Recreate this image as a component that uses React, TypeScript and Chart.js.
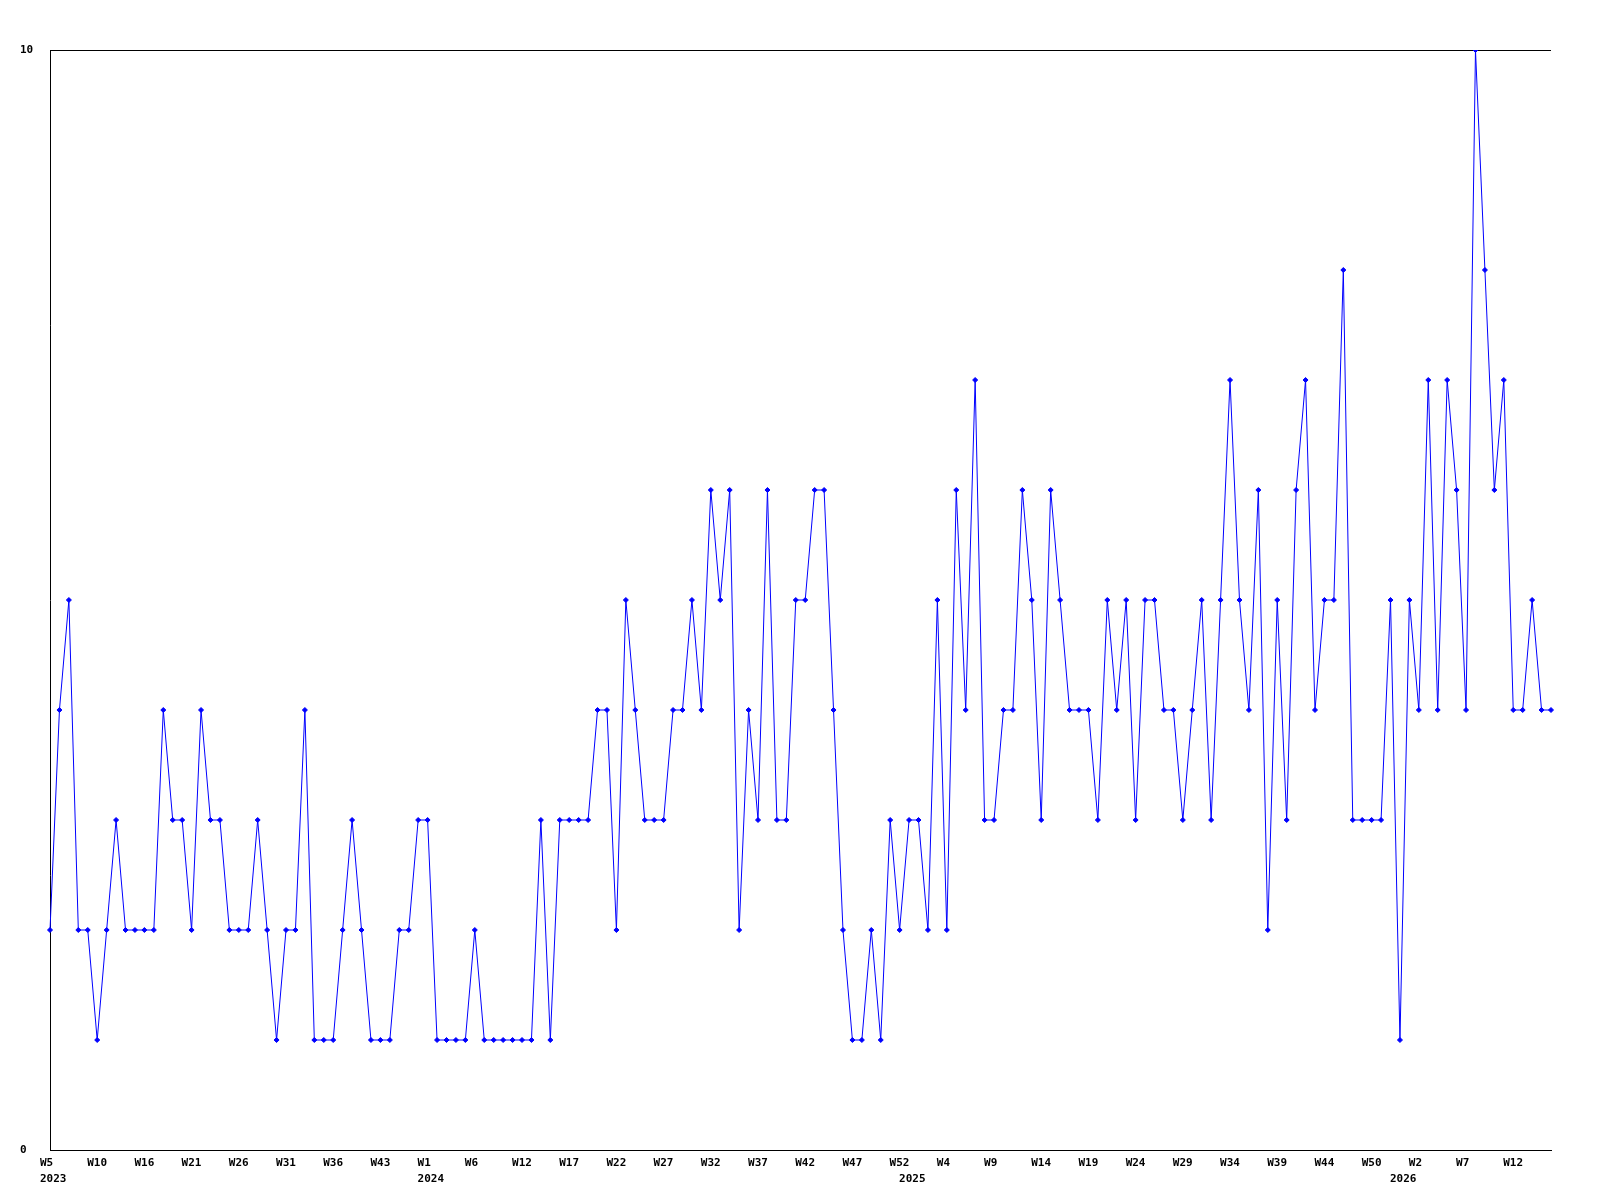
import React, { useEffect, useRef } from "react";
import { Chart, registerables } from "chart.js";

Chart.register(...registerables);

// Week number of each data point (a decrease marks the start of a new year)
const weekNumbers: number[] = [
  5, 6, 7, 8, 9, 10, 11, 12, 13, 15,
  16, 17, 18, 19, 20, 21, 22, 23, 24, 25,
  26, 27, 28, 29, 30, 31, 32, 33, 34, 35,
  36, 37, 38, 40, 42, 43, 44, 46, 48, 50,
  1, 2, 3, 4, 5, 6, 7, 8, 9, 11,
  12, 13, 14, 15, 16, 17, 18, 19, 20, 21,
  22, 23, 24, 25, 26, 27, 28, 29, 30, 31,
  32, 33, 34, 35, 36, 37, 38, 39, 40, 41,
  42, 43, 44, 45, 46, 47, 48, 49, 50, 51,
  52, 0, 1, 2, 3, 4, 5, 6, 7, 8,
  9, 10, 11, 12, 13, 14, 15, 16, 17, 18,
  19, 20, 21, 22, 23, 24, 25, 26, 27, 28,
  29, 30, 31, 32, 33, 34, 35, 36, 37, 38,
  39, 40, 41, 42, 43, 44, 45, 46, 47, 49,
  50, 51, 52, 0, 1, 2, 3, 4, 5, 6,
  7, 8, 9, 10, 11, 12, 13, 14, 15, 16,
];

const firstYear = 2023;

const values: number[] = [
  2, 4, 5, 2, 2, 1, 2, 3, 2, 2,
  2, 2, 4, 3, 3, 2, 4, 3, 3, 2,
  2, 2, 3, 2, 1, 2, 2, 4, 1, 1,
  1, 2, 3, 2, 1, 1, 1, 2, 2, 3,
  3, 1, 1, 1, 1, 2, 1, 1, 1, 1,
  1, 1, 3, 1, 3, 3, 3, 3, 4, 4,
  2, 5, 4, 3, 3, 3, 4, 4, 5, 4,
  6, 5, 6, 2, 4, 3, 6, 3, 3, 5,
  5, 6, 6, 4, 2, 1, 1, 2, 1, 3,
  2, 3, 3, 2, 5, 2, 6, 4, 7, 3,
  3, 4, 4, 6, 5, 3, 6, 5, 4, 4,
  4, 3, 5, 4, 5, 3, 5, 5, 4, 4,
  3, 4, 5, 3, 5, 7, 5, 4, 6, 2,
  5, 3, 6, 7, 4, 5, 5, 8, 3, 3,
  3, 3, 5, 1, 5, 4, 7, 4, 7, 6,
  4, 10, 8, 6, 7, 4, 4, 5, 4, 4,
];

const tickEvery = 5;
const yMin = 0;
const yMax = 10;

// derive years for each point
const years: number[] = [];
{
  let y = firstYear;
  weekNumbers.forEach((w, i) => {
    if (i > 0 && w < weekNumbers[i - 1]) y += 1;
    years.push(y);
  });
}
const categories: string[] = weekNumbers.map((w, i) => `${years[i]}-W${w}`);
const yearStart: boolean[] = years.map((y, i) => i === 0 || y !== years[i - 1]);

const FONT = "'DejaVu Sans Mono', 'Liberation Mono', monospace";

export default function App() {
  const canvasRef = useRef<HTMLCanvasElement | null>(null);

  useEffect(() => {
    if (!canvasRef.current) return;
    const chart = new Chart(canvasRef.current, {
      type: "line",
      data: {
        labels: categories,
        datasets: [
          {
            data: values,
            borderColor: "#0000ff",
            backgroundColor: "#0000ff",
            borderWidth: 1,
            pointStyle: "rectRot",
            pointRadius: 2.5,
            pointBorderWidth: 1,
            pointBorderColor: "#0000ff",
            pointBackgroundColor: "#0000ff",
            tension: 0,
            fill: false,
          },
        ],
      },
      options: {
        responsive: false,
        animation: false,
        devicePixelRatio: 1,
        layout: { padding: { top: 50, right: 49, left: 20, bottom: 0 } },
        plugins: {
          legend: { display: false },
          tooltip: { enabled: false },
          title: { display: false },
        },
        scales: {
          x: {
            type: "category",
            offset: false,
            grid: { display: false, drawTicks: false },
            border: { display: true, color: "#000000", width: 1 },
            afterFit: (scale: any) => {
              scale.height = 50;
            },
            ticks: {
              autoSkip: false,
              maxRotation: 0,
              minRotation: 0,
              align: "start",
              labelOffset: -10,
              padding: 5,
              color: "#000000",
              font: { family: FONT, size: 11, weight: "bold", lineHeight: 16 / 11 },
              callback: (_v: any, index: number) => {
                const showWeek = index % tickEvery === 0;
                const showYear = yearStart[index];
                if (!showWeek && !showYear) return "";
                const weekText = showWeek ? `W${weekNumbers[index]}` : "";
                if (showYear) return [weekText, String(years[index])];
                return weekText;
              },
            },
          },
          y: {
            min: yMin,
            max: yMax,
            grid: { display: true, color: "#000000", lineWidth: 1, drawTicks: false },
            border: { display: true, color: "#000000", width: 1 },
            afterFit: (scale: any) => {
              scale.width = 30;
            },
            ticks: {
              stepSize: 10,
              crossAlign: "far",
              padding: 10,
              color: "#000000",
              font: { family: FONT, size: 11, weight: "bold" },
            },
          },
        },
      },
    });
    return () => chart.destroy();
  }, []);

  return (
    <div style={{ position: "fixed", left: 0, top: 0, width: 1600, height: 1200, background: "#ffffff" }}>
      <canvas ref={canvasRef} width={1600} height={1200} style={{ width: 1600, height: 1200, display: "block" }} />
    </div>
  );
}
